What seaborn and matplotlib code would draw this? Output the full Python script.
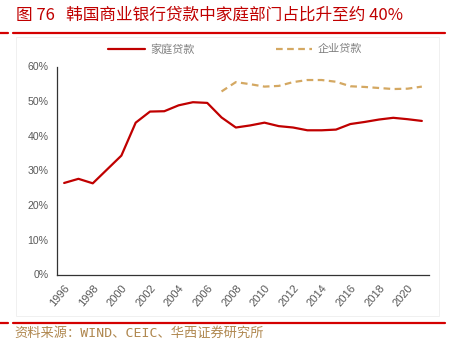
import matplotlib
matplotlib.use("Agg")
import matplotlib.pyplot as plt
from matplotlib.lines import Line2D
from matplotlib.patches import Rectangle
from matplotlib.ticker import FixedLocator, PercentFormatter
import seaborn as sns
import pandas as pd
import numpy as np

years = list(range(1996, 2022))
household = [26.4, 27.6, 26.3, 30.3, 34.3, 43.8, 47.0, 47.1, 48.8, 49.7, 49.5, 45.3,
             42.4, 43.0, 43.8, 42.8, 42.4, 41.6, 41.6, 41.8, 43.4, 44.0, 44.7, 45.2, 44.8, 44.3]
corp_years = list(range(2007, 2022))
corporate = [52.8, 55.5, 54.9, 54.2, 54.4, 55.5, 56.1, 56.1, 55.6, 54.3, 54.1, 53.8, 53.5, 53.6, 54.2]
tick_labels = [str(y) for y in range(1996, 2021, 2)]
series_names = ["家庭贷款", "企业贷款"]
title = "图 76   韩国商业银行贷款中家庭部门占比升至约 40%"
source = "资料来源：WIND、CEIC、华西证券研究所"

sns.set_style("white")
plt.rcParams['font.family'] = ['Noto Sans CJK SC', 'DejaVu Sans']

W, H = 459, 340
fig = plt.figure(figsize=(W / 100, H / 100), dpi=100)
ax = fig.add_axes([57 / W, 1 - 274.5 / H, (429 - 57) / W, (274.5 - 66.5) / H])

df_h = pd.DataFrame({"year": years, "value": household})
df_c = pd.DataFrame({"year": corp_years, "value": corporate})

red = "#C00000"
tan = "#D4A862"
sns.lineplot(data=df_h, x="year", y="value", ax=ax, color=red, linewidth=1.6,
             label=series_names[0])
sns.lineplot(data=df_c, x="year", y="value", ax=ax, color=tan, linewidth=1.6,
             dashes=False, label=series_names[1])
ax.lines[1].set_dashes([3, 2])

ax.set_xlim(1995.5, 2021.5)
ax.set_ylim(0, 60)
ax.set_xlabel("")
ax.set_ylabel("")

# major ticks at category boundaries, labels at category centers
ax.xaxis.set_major_locator(FixedLocator(np.arange(1995.5, 2022, 2)))
ax.xaxis.set_minor_locator(FixedLocator([int(t) for t in tick_labels]))
ax.set_xticklabels([], minor=False)
ax.set_xticklabels(tick_labels, minor=True, rotation=50, ha="right",
                   rotation_mode="anchor", color="#595959", fontsize=8,
                   family=["Liberation Sans", "DejaVu Sans"])
ax.tick_params(axis="x", which="major", direction="in", length=3, width=0.8, color="#333333")
ax.tick_params(axis="x", which="minor", length=0, pad=6)

ax.set_yticks(np.arange(0, 61, 10))
ax.yaxis.set_major_formatter(PercentFormatter(decimals=0))
ax.tick_params(axis="y", direction="in", length=3, width=0.8, color="#333333",
               labelcolor="#595959", labelsize=7.6, pad=6)
for lab in ax.get_yticklabels():
    lab.set_family(["Liberation Sans", "DejaVu Sans"])

for s in ["top", "right"]:
    ax.spines[s].set_visible(False)
for s in ["left", "bottom"]:
    ax.spines[s].set_color("#333333")
    ax.spines[s].set_linewidth(0.9)

ax.legend_.remove()
handles = [Line2D([], [], color=red, linewidth=1.6),
           Line2D([], [], color=tan, linewidth=1.6, dashes=[3, 2])]
fig.legend(handles, series_names, loc="center", bbox_to_anchor=(0.512, 1 - 49 / H),
           ncol=2, frameon=False, fontsize=8, handlelength=3.3, handletextpad=0.45,
           columnspacing=7.3, labelcolor="#7F7F7F")

# faint frame around chart area
fig.add_artist(Rectangle((16 / W, 1 - 316 / H), (439 - 16) / W, (316 - 37) / H,
                         transform=fig.transFigure, fill=False, edgecolor="#EEEEEE",
                         linewidth=0.6))

# decorative red rules
for yy in (33, 323):
    fig.add_artist(Line2D([0 / W, 8 / W], [1 - yy / H] * 2, color="#D40000", linewidth=1.6,
                          transform=fig.transFigure))
    fig.add_artist(Line2D([13 / W, 445 / W], [1 - yy / H] * 2, color="#D40000", linewidth=1.6,
                          transform=fig.transFigure))

fig.text(16 / W, 1 - 15 / H, title, color="#C00000", fontsize=12, va="center", ha="left")
fig.text(14 / W, 1 - 333 / H, source, color="#B08850", fontsize=9.5, va="center", ha="left",
         family=["DejaVu Sans Mono", "Noto Sans CJK SC"])

fig.savefig("out.png", dpi=100)
